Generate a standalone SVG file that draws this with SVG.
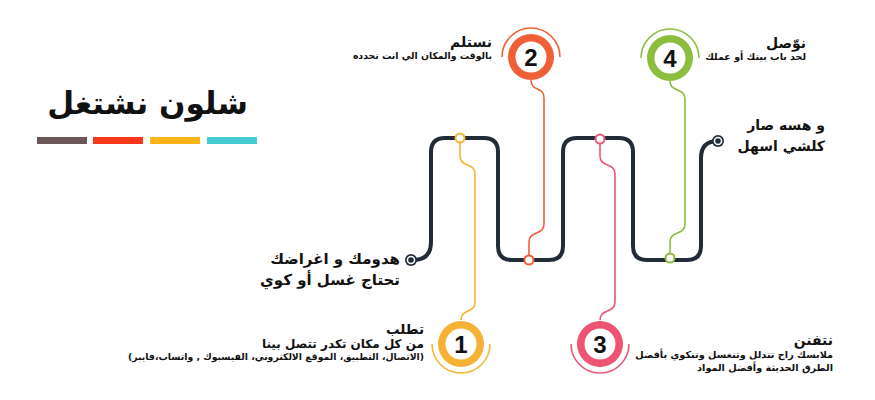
<svg xmlns="http://www.w3.org/2000/svg" width="875" height="400" viewBox="0 0 875 400">
<style>
.ar{font-family:"DejaVu Sans","Noto Sans",sans-serif;font-weight:bold;fill:#111;direction:rtl;unicode-bidi:embed;text-anchor:start}
.num{font-family:"Liberation Sans",Arial,sans-serif;font-weight:bold;font-size:24px;fill:#111;text-anchor:middle}
.track{fill:none;stroke:#212c38;stroke-width:4;stroke-linecap:round;stroke-linejoin:round}
.con{fill:none;stroke-width:1.6}
.arc{fill:none;stroke-width:1.6}
</style>
<rect width="875" height="400" fill="#fff"/>
<g id="title">
<text class="ar" x="248" y="114" font-size="31">شلون نشتغل</text>
<rect x="37" y="137" width="50" height="7" fill="#6b5856"/>
<rect x="93" y="137" width="50" height="7" fill="#f5381a"/>
<rect x="150" y="137" width="50" height="7" fill="#fdb51a"/>
<rect x="207" y="137" width="50" height="7" fill="#46ccd0"/>
</g>
<g id="connectors">
<path class="track" d="M411,260 H413 Q431,260 431,242 V152 Q431,138 445,138 H484 Q498,138 498,152 V246 Q498,260 512,260 H549 Q563,260 563,246 V152 Q563,138 577,138 H619 Q633,138 633,152 V246 Q633,260 647,260 H687 Q701,260 701,246 V158 Q701,141 718,141"/>
<path class="con" stroke="#f7b431" d="M460,143 V156 C460,168 475,162 475,174 V302 C475,314 461,308 461,320"/>
<path class="con" stroke="#f15f37" d="M531,80 C531,92 544,86 544,98 V224 C544,236 529,230 529,242 V255"/>
<path class="con" stroke="#ef5474" d="M600,144 V156 C600,168 615,162 615,174 V302 C615,314 600,308 600,320"/>
<path class="con" stroke="#8dbd3e" d="M670,81 C670,93 685,87 685,99 V224 C685,236 670,230 670,242 V253"/>
<circle cx="460" cy="138" r="4.5" fill="#fff" stroke="#f7b431" stroke-width="2"/>
<circle cx="529" cy="260" r="4.5" fill="#fff" stroke="#f15f37" stroke-width="2"/>
<circle cx="600" cy="139" r="4.5" fill="#fff" stroke="#ef5474" stroke-width="2"/>
<circle cx="670" cy="258" r="4.5" fill="#fff" stroke="#8dbd3e" stroke-width="2"/>
<circle cx="411" cy="260" r="6" fill="#212c38"/><circle cx="411" cy="260" r="4.3" fill="#fff"/><circle cx="411" cy="260" r="2.8" fill="#212c38"/>
<circle cx="718" cy="141" r="6" fill="#212c38"/><circle cx="718" cy="141" r="4.3" fill="#fff"/><circle cx="718" cy="141" r="2.8" fill="#212c38"/>
</g>
<g id="step1">
<circle cx="461" cy="344" r="23" fill="#f5b235"/>
<circle cx="461" cy="344" r="15.5" fill="#fff"/>
<path class="arc" stroke="#f7b431" d="M432,344 A29,29 0 0 0 490,344"/>
<text class="num" x="461" y="353">1</text>
<text class="ar" x="424" y="334" font-size="13.5">تطلب</text>
<text class="ar" x="424" y="348" font-size="12">من كل مكان تكدر تتصل بينا</text>
<text class="ar" x="424" y="360" font-size="9.3">(الاتصال، التطبيق، الموقع الالكتروني، الفيسبوك , واتساب،فايبر)</text>
</g>
<g id="step2">
<circle cx="531" cy="57" r="23" fill="#f15f37"/>
<circle cx="531" cy="57" r="15.5" fill="#fff"/>
<path class="arc" stroke="#f15f37" d="M502,57 A29,29 0 0 1 560,57"/>
<text class="num" x="531" y="66">2</text>
<text class="ar" x="492" y="47" font-size="14">نستلم</text>
<text class="ar" x="492" y="59" font-size="9.3">بالوقت والمكان الي انت تحدده</text>
</g>
<g id="step3">
<circle cx="600" cy="344" r="23" fill="#ef5474"/>
<circle cx="600" cy="344" r="15.5" fill="#fff"/>
<path class="arc" stroke="#ef5474" d="M571,344 A29,29 0 0 0 629,344"/>
<text class="num" x="600" y="353">3</text>
<text class="ar" x="833" y="345" font-size="14">نتفنن</text>
<text class="ar" x="833" y="358" font-size="9.7">ملابسك راح تتدلل وتنغسل وتنكوي بأفضل</text>
<text class="ar" x="833" y="371" font-size="9.7">الطرق الحديثة وأفضل المواد</text>
</g>
<g id="step4">
<circle cx="670" cy="58" r="23" fill="#8dbd3e"/>
<circle cx="670" cy="58" r="15.5" fill="#fff"/>
<path class="arc" stroke="#8dbd3e" d="M641,58 A29,29 0 0 1 699,58"/>
<text class="num" x="670" y="67">4</text>
<text class="ar" x="806" y="48" font-size="14">نوّصل</text>
<text class="ar" x="806" y="60" font-size="9.5">لحد باب بيتك أو عملك</text>
</g>
<g id="start-text">
<text class="ar" x="400" y="264" font-size="15">هدومك و اغراضك</text>
<text class="ar" x="400" y="285" font-size="15">تحتاج غسل أو كوي</text>
</g>
<g id="end-text">
<text class="ar" x="825" y="130" font-size="14">و هسه صار</text>
<text class="ar" x="825" y="151" font-size="14">كلشي اسهل</text>
</g>
</svg>
